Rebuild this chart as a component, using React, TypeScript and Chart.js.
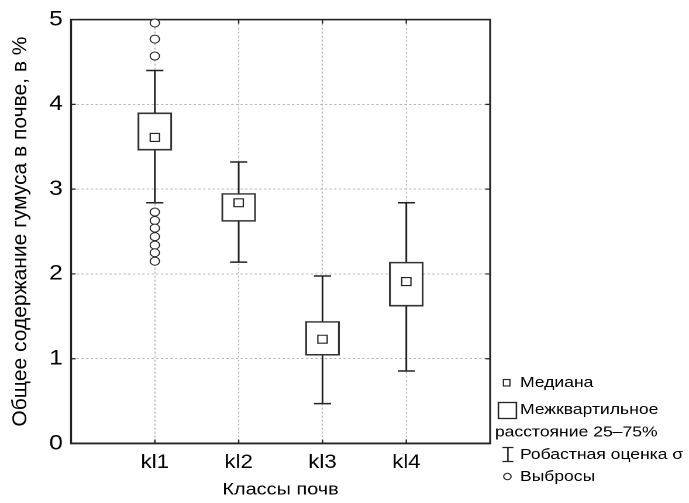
import React, { useEffect, useRef } from "react";
import { Chart, registerables } from "chart.js";

Chart.register(...registerables);

const categories = ["kl1", "kl2", "kl3", "kl4"];
const categoryPositions = [1, 2, 3, 4];
const whiskerLow = [2.84, 2.14, 0.47, 0.855];
const boxLow = [3.46, 2.62, 1.04, 1.62];
const medians = [3.61, 2.84, 1.23, 1.91];
const boxHigh = [3.9, 2.95, 1.44, 2.14];
const whiskerHigh = [4.4, 3.32, 1.975, 2.84];
const outlierCategory = [1, 1, 1, 1, 1, 1, 1, 1, 1, 1];
const outlierValues = [4.96, 4.77, 4.57, 2.73, 2.63, 2.54, 2.44, 2.34, 2.25, 2.15];
const yTickValues = [0, 1, 2, 3, 4, 5];
const yTitle = "Общее содержание гумуса в почве, в %";
const xTitle = "Классы почв";
const legendLabels = ["Медиана", "Межквартильное", "расстояние 25–75%", "Робастная оценка σ", "Выбросы"];

// horizontal stretch of the reference image
const S = 1.17;
const PAGE_W = 689;
const PAGE_H = 503;
const CW = Math.round(PAGE_W / S);
const FONT = "'Liberation Sans', Arial, sans-serif";
const INK = "#222";

const boxPlugin = {
  id: "boxWhiskers",
  beforeDatasetsDraw(chart: any) {
    const { ctx, chartArea, scales } = chart;
    const x = scales.x;
    const y = scales.y;
    ctx.save();
    ctx.strokeStyle = INK;
    ctx.lineWidth = 1.5;
    const capHalf = 7.3;
    categoryPositions.forEach((c, i) => {
      const xp = x.getPixelForValue(c);
      const yl = y.getPixelForValue(whiskerLow[i]);
      const yh = y.getPixelForValue(whiskerHigh[i]);
      ctx.beginPath();
      ctx.moveTo(xp, yl);
      ctx.lineTo(xp, yh);
      ctx.moveTo(xp - capHalf, yl);
      ctx.lineTo(xp + capHalf, yl);
      ctx.moveTo(xp - capHalf, yh);
      ctx.lineTo(xp + capHalf, yh);
      ctx.stroke();
    });
    // frame
    ctx.lineWidth = 1.6;
    ctx.strokeStyle = INK;
    ctx.strokeRect(chartArea.left, chartArea.top, chartArea.right - chartArea.left, chartArea.bottom - chartArea.top);
    // inner ticks
    ctx.lineWidth = 1.2;
    ctx.beginPath();
    yTickValues.slice(1, -1).forEach((v) => {
      const yp = y.getPixelForValue(v);
      ctx.moveTo(chartArea.left, yp);
      ctx.lineTo(chartArea.left + 4, yp);
      ctx.moveTo(chartArea.right, yp);
      ctx.lineTo(chartArea.right - 4, yp);
    });
    categoryPositions.forEach((c) => {
      const xp = x.getPixelForValue(c);
      ctx.moveTo(xp, chartArea.bottom);
      ctx.lineTo(xp, chartArea.bottom - 4);
      ctx.moveTo(xp, chartArea.top);
      ctx.lineTo(xp, chartArea.top + 4);
    });
    ctx.stroke();
    ctx.restore();
  },
  afterDraw(chart: any) {
    const { ctx, chartArea } = chart;
    ctx.save();
    // y axis title (rotated; compensate the horizontal stretch)
    ctx.save();
    ctx.translate(20.5 / S, (chartArea.top + chartArea.bottom) / 2);
    ctx.rotate(-Math.PI / 2);
    ctx.scale(1, 1 / S);
    ctx.fillStyle = "#000";
    ctx.font = `21px ${FONT}`;
    ctx.textAlign = "center";
    ctx.textBaseline = "middle";
    ctx.fillText(yTitle, 0, 0);
    ctx.restore();

    ctx.strokeStyle = INK;
    ctx.fillStyle = "#fff";
    ctx.lineWidth = 1.1;
    const tx = 520 / S;
    // median icon
    ctx.fillRect(503.5 / S, 379.5, 6.5 / S, 6.5);
    ctx.strokeRect(503.5 / S, 379.5, 6.5 / S, 6.5);
    // box icon
    ctx.lineWidth = 1.3;
    ctx.strokeRect(498.5 / S, 402.5, 18 / S, 16);
    // whisker icon
    const wx = 508 / S;
    ctx.beginPath();
    ctx.moveTo(wx, 447.5);
    ctx.lineTo(wx, 461.5);
    ctx.moveTo(wx - 5.5 / S, 447.5);
    ctx.lineTo(wx + 5.5 / S, 447.5);
    ctx.moveTo(wx - 5.5 / S, 461.5);
    ctx.lineTo(wx + 5.5 / S, 461.5);
    ctx.stroke();
    // outlier icon
    ctx.lineWidth = 1;
    ctx.beginPath();
    ctx.arc(507.5 / S, 476.5, 3.2, 0, Math.PI * 2);
    ctx.stroke();

    ctx.fillStyle = "#000";
    ctx.font = `15px ${FONT}`;
    ctx.textBaseline = "middle";
    ctx.textAlign = "left";
    ctx.fillText(legendLabels[0], tx, 383);
    ctx.fillText(legendLabels[1], tx, 410);
    ctx.fillText(legendLabels[2], 495 / S, 432.5);
    ctx.fillText(legendLabels[3], tx, 455);
    ctx.fillText(legendLabels[4], tx, 477);
    ctx.restore();
  },
};

export default function App() {
  const ref = useRef<HTMLCanvasElement | null>(null);
  useEffect(() => {
    if (!ref.current) return;
    const chart = new Chart(ref.current, {
      type: "bar",
      data: {
        datasets: [
          {
            type: "scatter",
            label: "median",
            data: categoryPositions.map((c, i) => ({ x: c, y: medians[i] })),
            pointStyle: "rect",
            pointRadius: 5.6,
            backgroundColor: "#fff",
            borderColor: INK,
            borderWidth: 1.1,
            order: 0,
          } as any,
          {
            type: "scatter",
            label: "outliers",
            data: outlierCategory.map((c, i) => ({ x: c, y: outlierValues[i] })),
            pointStyle: "circle",
            pointRadius: 4,
            backgroundColor: "#fff",
            borderColor: INK,
            borderWidth: 1,
            clip: false,
            order: 0,
          } as any,
          {
            type: "bar",
            label: "box",
            data: categoryPositions.map((c, i) => ({ x: c, y: [boxLow[i], boxHigh[i]] })),
            backgroundColor: "#fff",
            borderColor: "#333",
            borderWidth: 1.6,
            borderSkipped: false,
            barThickness: 29,
            order: 1,
          } as any,
        ],
      },
      options: {
        animation: false,
        responsive: false,
        devicePixelRatio: 2,
        layout: { padding: { top: 19.5, right: CW - 419, left: 0, bottom: 0 } },
        plugins: { legend: { display: false }, tooltip: { enabled: false } },
        scales: {
          x: {
            type: "linear",
            min: 0,
            max: 5,
            offset: false,
            afterFit: (s: any) => {
              s.height = PAGE_H - 443.5;
            },
            afterBuildTicks: (s: any) => {
              s.ticks = categoryPositions.map((v) => ({ value: v }));
            },
            ticks: {
              callback: (v: any) => categories[Number(v) - 1] ?? "",
              font: { family: FONT, size: 19 },
              color: "#000",
              padding: 8,
              maxRotation: 0,
              autoSkip: false,
            },
            grid: { offset: false, color: "#b8b8b8", lineWidth: 1, drawTicks: false },
            border: { display: true, color: INK, width: 1.6, dash: [2, 2] },
            title: {
              display: true,
              text: xTitle,
              font: { family: FONT, size: 17 },
              color: "#000",
              padding: { top: 0, bottom: 3 },
            },
          },
          y: {
            min: 0,
            max: 5,
            afterFit: (s: any) => {
              s.width = 60.7;
            },
            afterBuildTicks: (s: any) => {
              s.ticks = yTickValues.map((v) => ({ value: v }));
            },
            ticks: {
              font: { family: FONT, size: 21 },
              color: "#000",
              padding: 7,
            },
            grid: { color: "#b8b8b8", lineWidth: 1, drawTicks: false },
            border: { display: true, color: INK, width: 1.6, dash: [2, 2] },
            title: { display: false },
          },
        },
      },
      plugins: [boxPlugin],
    } as any);
    return () => chart.destroy();
  }, []);
  return (
    <div style={{ position: "absolute", left: 0, top: 0, width: PAGE_W, height: PAGE_H, background: "#fff" }}>
      <canvas
        ref={ref}
        width={CW}
        height={PAGE_H}
        style={{ width: `${PAGE_W}px`, height: `${PAGE_H}px`, display: "block" }}
      />
    </div>
  );
}
